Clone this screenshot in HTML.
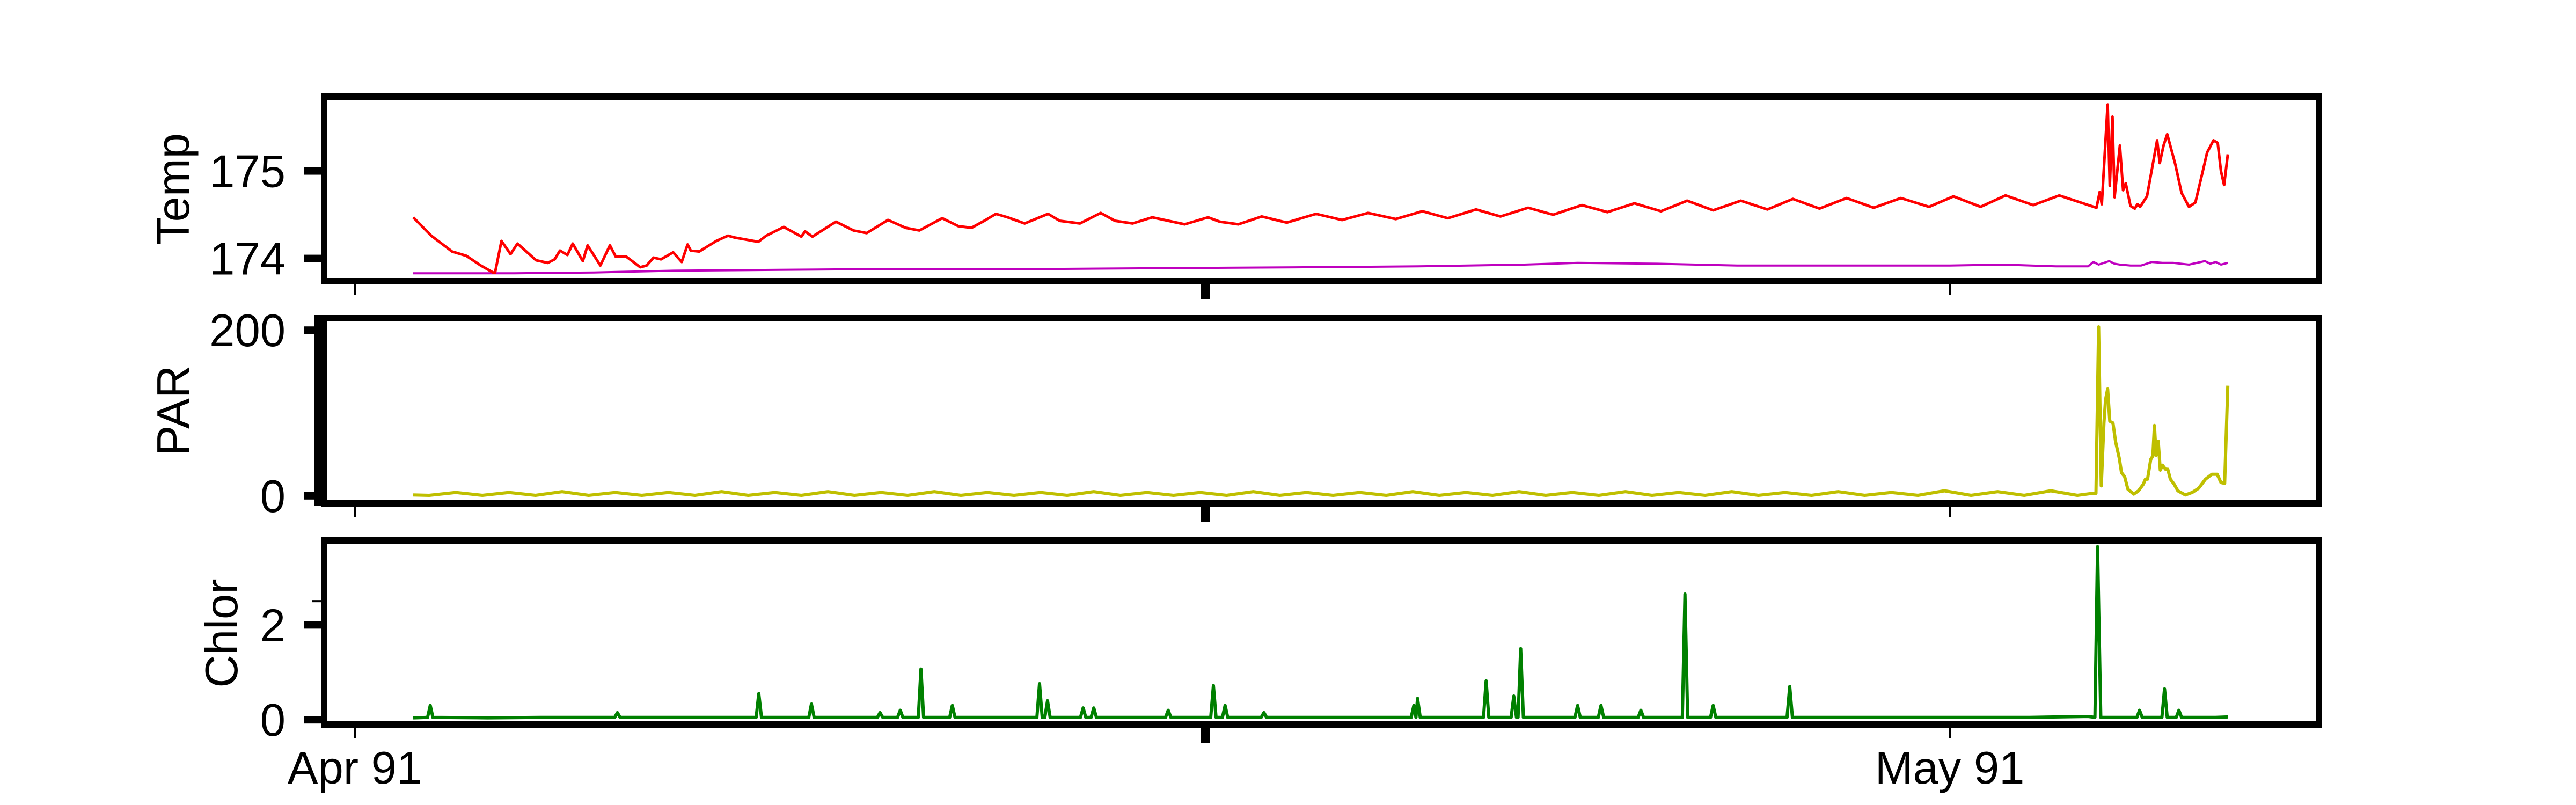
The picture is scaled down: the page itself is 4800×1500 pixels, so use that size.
<!DOCTYPE html>
<html><head><meta charset="utf-8"><style>
html,body{margin:0;padding:0;background:#fff;}
svg{display:block;}
text{font-family:"Liberation Sans",Arial,sans-serif;fill:#000;}
</style></head><body>
<svg id="chart" width="4800" height="1500" viewBox="0 0 4800 1500" xmlns="http://www.w3.org/2000/svg">
<rect x="0" y="0" width="4800" height="1500" fill="#fff"/>
<g id="marks"></g>
<g id="frames"></g>
</svg>
<script>
// ---- data (days since Apr 1) ----
const tempDays = [1.10,1.44,1.83,2.10,2.37,2.60,2.64,2.76,2.93,3.06,3.41,3.63,3.76,3.86,4.00,4.10,4.29,4.38,4.62,4.80,4.91,5.11,5.37,5.49,5.62,5.76,5.99,6.15,6.26,6.32,6.48,6.80,7.02,7.14,7.59,7.74,8.07,8.40,8.47,8.61,9.05,9.38,9.63,10.03,10.36,10.62,11.05,11.35,11.60,11.84,12.06,12.28,12.60,13.04,13.26,13.64,14.03,14.30,14.63,15.00,15.61,16.05,16.27,16.62,17.06,17.53,18.08,18.57,19.06,19.58,20.08,20.56,21.09,21.55,22.07,22.54,23.08,23.56,24.07,24.57,25.06,25.55,26.07,26.57,27.05,27.55,28.06,28.57,29.08,29.61,30.07,30.58,31.05,31.57,32.06,32.61,32.76,32.82,32.86,32.97,33.01,33.06,33.10,33.20,33.26,33.31,33.40,33.48,33.53,33.58,33.71,33.90,33.95,34.02,34.09,34.24,34.36,34.50,34.62,34.76,34.84,34.96,35.04,35.10,35.16,35.23];
const tempVals = [174.47,174.26,174.08,174.03,173.92,173.84,173.84,174.20,174.05,174.17,173.98,173.95,173.99,174.09,174.04,174.17,173.97,174.15,173.92,174.15,174.02,174.02,173.90,173.92,174.01,173.99,174.07,173.96,174.16,174.09,174.08,174.20,174.26,174.24,174.19,174.26,174.36,174.25,174.31,174.25,174.42,174.32,174.29,174.44,174.35,174.32,174.46,174.37,174.35,174.43,174.51,174.47,174.40,174.51,174.43,174.40,174.52,174.43,174.40,174.47,174.39,174.47,174.42,174.39,174.48,174.41,174.51,174.44,174.52,174.45,174.54,174.46,174.56,174.48,174.58,174.50,174.61,174.53,174.63,174.54,174.66,174.55,174.66,174.56,174.68,174.57,174.69,174.58,174.69,174.59,174.71,174.59,174.72,174.61,174.72,174.61,174.58,174.76,174.62,175.76,174.83,175.62,174.70,175.29,174.78,174.86,174.60,174.57,174.62,174.59,174.71,175.35,175.09,175.29,175.42,175.08,174.75,174.59,174.64,175.00,175.21,175.35,175.32,175.00,174.84,175.19];
const temp2Days = [1.10,3.0,4.5,6.0,8.0,10.0,13.0,15.5,18.0,20.0,22.0,23.0,24.5,26.0,28.0,30.0,31.0,32.0,32.6,32.7,32.8,33.0,33.1,33.2,33.4,33.6,33.8,34.0,34.2,34.5,34.8,34.9,35.0,35.1,35.23];
const temp2Vals = [173.83,173.83,173.84,173.86,173.87,173.88,173.88,173.89,173.90,173.91,173.93,173.95,173.94,173.92,173.92,173.92,173.93,173.91,173.91,173.96,173.93,173.97,173.94,173.93,173.92,173.92,173.96,173.95,173.95,173.93,173.97,173.94,173.96,173.93,173.95];
const parDays = [1.10,1.40,1.90,2.40,2.90,3.40,3.90,4.40,4.90,5.40,5.90,6.40,6.90,7.40,7.90,8.40,8.90,9.40,9.90,10.40,10.90,11.40,11.90,12.40,12.90,13.40,13.90,14.40,14.90,15.40,15.90,16.40,16.90,17.40,17.90,18.40,18.90,19.40,19.90,20.40,20.90,21.40,21.90,22.40,22.90,23.40,23.90,24.40,24.90,25.40,25.90,26.40,26.90,27.40,27.90,28.40,28.90,29.40,29.90,30.40,30.90,31.40,31.90,32.40,32.69,32.75,32.80,32.85,32.90,32.93,32.97,33.01,33.07,33.12,33.19,33.23,33.29,33.35,33.46,33.55,33.64,33.68,33.72,33.78,33.82,33.85,33.88,33.92,33.96,34.00,34.06,34.10,34.15,34.22,34.29,34.43,34.56,34.68,34.81,34.93,35.03,35.10,35.17,35.23];
const parVals = [1,0.5,4,0.5,4,0.5,5,0.5,4,0.5,4,0.5,5,0.5,4,0.5,5,0.5,4,0.5,5,0.5,4,0.5,4,0.5,5,0.5,4,0.5,4,0.5,5,0.5,4,0.5,4,0.5,5,0.5,4,0.5,5,0.5,4,0.5,5,0.5,4,0.5,5,0.5,4,0.5,5,0.5,4,0.5,6,0.5,5,0.5,6,0.5,3,3,204,12,88,116,129,90,88,65,45,28,23,8,2,6,14,20,20,44,48,85,49,66,31,37,32,32,20,14,6,1,4,9,20,26,26,16,15,133];
const chlorDays = [1.10,1.37,1.42,1.47,2.5,3.5,4.89,4.94,4.99,6.0,7.55,7.60,7.65,8.54,8.59,8.64,9.83,9.88,9.93,10.21,10.26,10.31,10.60,10.65,10.70,11.19,11.24,11.29,12.83,12.88,12.93,12.98,13.03,13.08,13.65,13.70,13.75,13.85,13.90,13.95,15.25,15.30,15.35,16.10,16.15,16.20,16.32,16.37,16.42,17.05,17.10,17.15,18.5,19.87,19.92,19.96,19.99,20.04,21.23,21.28,21.33,21.75,21.80,21.85,21.88,21.93,21.98,22.95,23.00,23.05,23.39,23.44,23.49,24.14,24.19,24.24,24.97,25.02,25.07,25.50,25.55,25.60,26.94,26.99,27.04,28.5,30.0,31.5,32.6,32.73,32.78,32.84,33.52,33.57,33.62,33.99,34.04,34.09,34.26,34.31,34.36,35.0,35.23];
const chlorVals = [0.04,0.05,0.30,0.05,0.04,0.05,0.05,0.15,0.05,0.05,0.05,0.55,0.05,0.05,0.33,0.05,0.05,0.15,0.05,0.05,0.20,0.05,0.05,1.07,0.05,0.05,0.30,0.05,0.05,0.76,0.05,0.05,0.40,0.05,0.05,0.25,0.05,0.05,0.25,0.05,0.05,0.20,0.05,0.05,0.72,0.05,0.05,0.30,0.05,0.05,0.15,0.05,0.05,0.05,0.30,0.05,0.45,0.05,0.05,0.82,0.05,0.05,0.50,0.05,0.05,1.50,0.05,0.05,0.30,0.05,0.05,0.30,0.05,0.05,0.20,0.05,0.05,2.65,0.05,0.05,0.30,0.05,0.05,0.70,0.05,0.05,0.05,0.05,0.07,0.05,3.65,0.05,0.05,0.20,0.05,0.05,0.65,0.05,0.05,0.20,0.05,0.05,0.06];
const xTickDays = [0,16,30];
const xTickLabels = ["Apr 91","","May 91"];
const tempTicks = [174,175];
const parTicks = [0,200];
const chlorTicks = [0,2];

// ---- layout ----
const X0 = 661, PXDAY = 99.07;
function xs(d){ return X0 + d*PXDAY; }
function makeY(vmin,vmax,top,bot){ return v => bot - (v-vmin)/(vmax-vmin)*(bot-top); }
const L = 604, R = 4321;
const yTemp = makeY(173.74,175.85,180,524);
const yPar = makeY(-9.2,214.4,593,938);
const yChl = makeY(-0.10,3.78,1007,1350);
const NS = "http://www.w3.org/2000/svg";
const marks = document.getElementById('marks');
const frames = document.getElementById('frames');
function el(tag, attrs, parent){ const e=document.createElementNS(NS,tag); for(const k in attrs) e.setAttribute(k,attrs[k]); parent.appendChild(e); return e; }
function line(days, vals, ys, color, w, name){
  let d='';
  for(let i=0;i<days.length;i++){ d += (i?'L':'M') + xs(days[i]).toFixed(1) + ' ' + ys(vals[i]).toFixed(1); }
  const p = el('path',{d:d,fill:'none',stroke:color,'stroke-width':w,'stroke-linejoin':'round'},marks);
  
  
}
line(temp2Days,temp2Vals,yTemp,'#bf00bf',4,'temp-secondary-line');
line(tempDays,tempVals,yTemp,'#ff0000',5,'temp-line');
line(parDays,parVals,yPar,'#bfbf00',6,'par-line');
line(chlorDays,chlorVals,yChl,'#008000',6,'chlor-line');

function panel(top,bot,name){
  const r = el('rect',{x:L,y:top,width:R-L,height:bot-top,fill:'none',stroke:'#000','stroke-width':12},frames);
  
  
}
panel(180,524,'temp-panel-frame');
panel(593,938,'par-panel-frame');
panel(1007,1350,'chlor-panel-frame');
const sp = el('rect',{x:585,y:587,width:20,height:355,fill:'#000'},frames);



function yTicks(ticks, ys, labelName){
  ticks.forEach(v=>{
    const y = ys(v);
    const t = el('rect',{x:567,y:y-7,width:37,height:14,fill:'#000'},frames);
    
    
    const tx = el('text',{x:532,y:y+30,'font-size':85,'text-anchor':'end'},frames);
    tx.textContent = String(v);
    
    
  });
}
yTicks(tempTicks,yTemp,'temp-y');
yTicks(parTicks,yPar,'par-y');
yTicks(chlorTicks,yChl,'chlor-y');
const mt = el('rect',{x:582,y:yChl(2.5)-2,width:22,height:4,fill:'#000'},frames);



function ylabel(txt,x,y,name){
  const t = el('text',{x:x,y:y,'font-size':85,'text-anchor':'middle',transform:'rotate(-90 '+x+' '+y+')'},frames);
  t.textContent = txt;
  
  
}
ylabel('Temp',352,352,'temp-axis-title');
ylabel('PAR',352,765,'par-axis-title');
ylabel('Chlor',442,1180,'chlor-axis-title');

[524,938,1350].forEach((b,bi)=>{
  xTickDays.forEach((d,i)=>{
    const x = xs(d);
    const thick = xTickLabels[i]==='';
    const w = thick ? 17 : 4;
    const h = thick ? 28 : 20;
    const t = el('rect',{x:x-w/2,y:b+6,width:w,height:h,fill:'#000'},frames);
    
    
  });
});
xTickDays.forEach((d,i)=>{
  if(!xTickLabels[i]) return;
  const t = el('text',{x:xs(d),y:1460,'font-size':85,'text-anchor':'middle'},frames);
  t.textContent = xTickLabels[i];
  
  
});
</script>
</body></html>
